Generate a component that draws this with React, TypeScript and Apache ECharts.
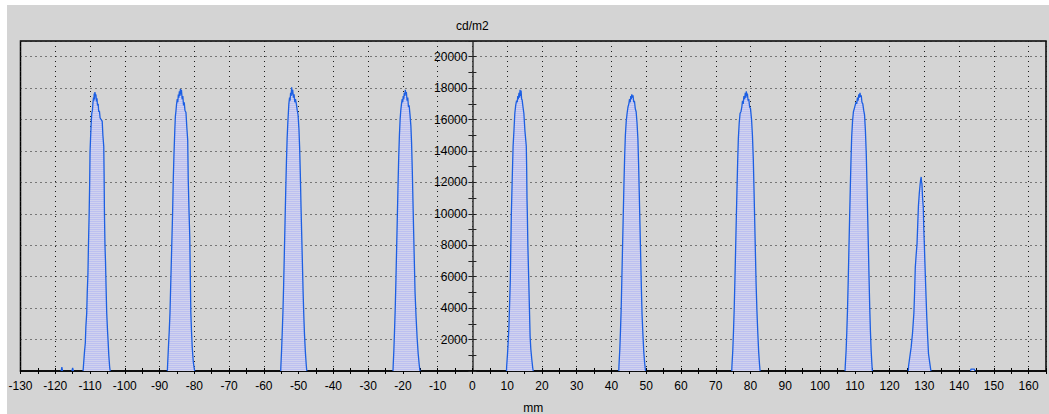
import React, { useEffect, useRef } from "react";
import * as echarts from "echarts";

// x axis (mm) and y axis (cd/m2) settings
const xMin = -130;
const xMax = 165;
const yMin = 0;
const yMax = 21000;

// Luminance profiles: [mm, cd/m2]
const peak1: number[][] = [
  [-112.0, 0], [-111.9, 300], [-111.6, 1200], [-111.35, 1800], [-111.2, 2800], [-110.95, 3700],
  [-110.8, 5000], [-110.6, 6200], [-110.45, 8000], [-110.25, 10000], [-110.1, 12000], [-110.0, 13900],
  [-109.85, 14800], [-109.7, 15600], [-109.5, 16400], [-109.3, 16600], [-109.15, 17100], [-109.0, 17400],
  [-108.9, 17200], [-108.8, 17650], [-108.7, 17300], [-108.6, 17750], [-108.45, 17550], [-108.3, 17600],
  [-108.15, 17150], [-108.0, 17350], [-107.85, 16900], [-107.65, 17000], [-107.5, 16500], [-107.3, 16550],
  [-107.1, 16100], [-106.8, 16000], [-106.5, 15900], [-106.3, 15000], [-106.05, 14300], [-105.95, 12500],
  [-105.85, 10000], [-105.7, 8000], [-105.55, 7000], [-105.4, 5500], [-105.2, 3700], [-104.95, 2500],
  [-104.8, 1900], [-104.6, 1000], [-104.35, 250], [-104.2, 0],
];
const peak2: number[][] = [
  [-87.75, 0], [-87.7, 300], [-87.45, 1500], [-87.2, 2600], [-87.0, 3700], [-86.75, 5800], [-86.5, 7900],
  [-86.25, 10000], [-86.05, 12200], [-85.85, 13800], [-85.6, 15400], [-85.45, 16200], [-85.3, 16500],
  [-85.1, 17000], [-84.9, 17300], [-84.75, 17100], [-84.6, 17600], [-84.45, 17400], [-84.3, 17800],
  [-84.15, 17500], [-84.0, 17950], [-83.85, 17600], [-83.7, 17900], [-83.5, 17300], [-83.3, 17500],
  [-83.1, 16900], [-82.9, 17100], [-82.7, 16600], [-82.4, 16450], [-82.15, 15500], [-81.9, 14700],
  [-81.75, 12200], [-81.5, 10000], [-81.3, 8500], [-81.15, 6000], [-81.0, 3700], [-80.8, 2500],
  [-80.6, 1500], [-80.3, 600], [-80.05, 200], [-79.9, 0],
];
const peak3: number[][] = [
  [-55.15, 0], [-55.1, 300], [-54.9, 1300], [-54.7, 2500], [-54.5, 3800], [-54.3, 5500], [-54.1, 7500],
  [-53.9, 9500], [-53.7, 11500], [-53.5, 13300], [-53.3, 14800], [-53.1, 15800], [-52.95, 16400],
  [-52.8, 17000], [-52.6, 17400], [-52.45, 17200], [-52.3, 17700], [-52.15, 17500], [-52.0, 18050],
  [-51.85, 17600], [-51.7, 17900], [-51.5, 17400], [-51.3, 17600], [-51.1, 17100], [-50.9, 17300],
  [-50.65, 17000], [-50.4, 16600], [-50.15, 16300], [-49.9, 15400], [-49.7, 14200], [-49.5, 12500],
  [-49.3, 10400], [-49.1, 8600], [-48.9, 6800], [-48.7, 5000], [-48.5, 3500], [-48.3, 2300],
  [-48.05, 1200], [-47.8, 400], [-47.65, 0],
];
const peak4: number[][] = [
  [-22.85, 0], [-22.8, 300], [-22.6, 1300], [-22.4, 2600], [-22.2, 4000], [-22.0, 5800], [-21.8, 7800],
  [-21.6, 9800], [-21.4, 11800], [-21.2, 13600], [-21.0, 15000], [-20.8, 16000], [-20.6, 16600],
  [-20.4, 17000], [-20.2, 17300], [-20.05, 17100], [-19.9, 17500], [-19.75, 17300], [-19.6, 17700],
  [-19.45, 17500], [-19.3, 17900], [-19.15, 17600], [-19.0, 17750], [-18.8, 17200], [-18.6, 17400],
  [-18.4, 16800], [-18.2, 16900], [-17.95, 16300], [-17.7, 15600], [-17.5, 14500], [-17.3, 12800],
  [-17.1, 10800], [-16.9, 8800], [-16.7, 6900], [-16.5, 5000], [-16.2, 3400], [-15.9, 2100],
  [-15.6, 1100], [-15.3, 400], [-15.1, 0],
];
const peak5: number[][] = [
  [9.8, 0], [9.85, 300], [10.1, 1100], [10.3, 1900], [10.5, 2800], [10.7, 4300], [10.9, 5800],
  [11.05, 8000], [11.2, 10000], [11.45, 12200], [11.7, 14300], [11.95, 15300], [12.2, 16400],
  [12.45, 16900], [12.7, 17200], [12.9, 17100], [13.05, 17500], [13.2, 17300], [13.4, 17700],
  [13.55, 17400], [13.7, 17900], [13.85, 17500], [14.0, 17850], [14.15, 17300], [14.3, 17250],
  [14.55, 16800], [14.8, 16400], [15.1, 15300], [15.5, 14300], [15.6, 13000], [15.7, 11000],
  [15.8, 10000], [15.95, 8000], [16.2, 5800], [16.4, 4000], [16.6, 2200], [16.8, 1400],
  [17.1, 700], [17.35, 200], [17.5, 0],
];
const peak6: number[][] = [
  [42.1, 0], [42.15, 300], [42.4, 1400], [42.6, 2600], [42.8, 4000], [43.0, 6000], [43.2, 8000],
  [43.4, 10000], [43.6, 12000], [43.8, 13700], [44.0, 15000], [44.25, 15900], [44.5, 16400],
  [44.75, 16800], [45.0, 17000], [45.2, 17300], [45.4, 17100], [45.55, 17500], [45.7, 17300],
  [45.85, 17600], [46.0, 17400], [46.2, 17550], [46.4, 17100], [46.6, 17200], [46.85, 16700],
  [47.1, 16500], [47.35, 15800], [47.6, 14800], [47.8, 13200], [48.0, 11300], [48.2, 9300],
  [48.4, 7300], [48.6, 5300], [48.8, 3600], [49.05, 2300], [49.3, 1200], [49.55, 500], [49.8, 0],
];
const peak7: number[][] = [
  [74.6, 0], [74.65, 300], [74.9, 1300], [75.1, 2500], [75.3, 3900], [75.5, 5700], [75.7, 7600],
  [75.9, 9600], [76.1, 11500], [76.3, 13300], [76.5, 14800], [76.75, 15800], [77.0, 16400],
  [77.25, 16500], [77.5, 16800], [77.7, 17200], [77.9, 17000], [78.1, 17500], [78.3, 17300],
  [78.5, 17700], [78.65, 17400], [78.8, 17800], [78.95, 17500], [79.1, 17650], [79.3, 17200],
  [79.5, 17300], [79.75, 16800], [80.0, 16700], [80.3, 16000], [80.55, 15000], [80.8, 13500],
  [81.0, 11600], [81.2, 9600], [81.4, 7600], [81.6, 5600], [81.85, 3800], [82.1, 2400],
  [82.35, 1200], [82.6, 400], [82.75, 0],
];
const peak8: number[][] = [
  [107.2, 0], [107.25, 300], [107.5, 1300], [107.7, 2500], [107.9, 3900], [108.1, 5700], [108.3, 7700],
  [108.5, 9700], [108.7, 11600], [108.9, 13400], [109.1, 14900], [109.35, 15900], [109.6, 16500],
  [109.85, 16700], [110.1, 16900], [110.35, 17100], [110.55, 17000], [110.75, 17400], [110.95, 17200],
  [111.15, 17600], [111.3, 17400], [111.5, 17700], [111.65, 17450], [111.85, 17550], [112.05, 17100],
  [112.3, 17000], [112.55, 16600], [112.8, 16300], [113.05, 15300], [113.3, 13800], [113.5, 11900],
  [113.7, 9900], [113.9, 7900], [114.1, 5900], [114.3, 4000], [114.5, 2500], [114.7, 1300],
  [114.9, 500], [115.05, 0],
];
const peak9: number[][] = [
  [125.4, 0], [125.45, 300], [125.7, 700], [126.2, 1500], [126.6, 2400], [127.0, 3700], [127.2, 5000],
  [127.4, 6600], [127.65, 7400], [127.9, 8100], [128.1, 9300], [128.3, 10500], [128.55, 11300],
  [128.8, 11900], [128.95, 12200], [129.1, 12350], [129.2, 12000], [129.3, 11950], [129.5, 11000],
  [129.7, 10400], [129.85, 9000], [130.0, 8100], [130.15, 7000], [130.3, 6000], [130.5, 4700],
  [130.7, 3450], [130.95, 2200], [131.2, 1100], [131.6, 450], [131.9, 0],
];
const blips: number[][][] = [
  [[-118.3, 0], [-118.1, 250], [-117.9, 0]],
  [[-115.2, 0], [-115.0, 200], [-114.8, 0]],
  [[143.3, 0], [143.4, 120], [144.4, 120], [144.5, 0]],
];

const peaks = [peak1, peak2, peak3, peak4, peak5, peak6, peak7, peak8, peak9, ...blips];

const FONT = "'Liberation Sans', Arial, sans-serif";
const LINE = "#1d5fe2";
const FILL_A = "#bcc0f0";
const FILL_B = "#d0d2ee";
const DOT = "#1a1a1a";

// layout of the plot box inside the chart div
const CHART_W = 1042;
const CHART_H = 409;
const G_LEFT = 13.5;
const G_RIGHT = 3;
const G_TOP = 36;
const G_BOTTOM = 43;

function stripePattern(): any {
  try {
    const c = document.createElement("canvas");
    c.width = 4;
    c.height = 2;
    const ctx = c.getContext("2d");
    if (!ctx) return "#c4c7ef";
    ctx.fillStyle = FILL_A;
    ctx.fillRect(0, 0, 4, 1);
    ctx.fillStyle = FILL_B;
    ctx.fillRect(0, 1, 4, 1);
    return { image: c.toDataURL(), repeat: "repeat" };
  } catch (e) {
    return "#c4c7ef";
  }
}

export default function App() {
  const ref = useRef<HTMLDivElement>(null);
  useEffect(() => {
    if (!ref.current) return;
    const chart = echarts.init(ref.current, undefined, { renderer: "svg" });
    const plotW = CHART_W - G_LEFT - G_RIGHT;
    const zeroX = ((0 - xMin) / (xMax - xMin)) * plotW;
    const leftOffset = -zeroX;
    const rightOffset = -(plotW - zeroX);
    const fill = stripePattern();
    const tickAxisX = (inside: boolean) => ({
      type: "value",
      position: "bottom",
      min: xMin,
      max: xMax,
      interval: 5,
      axisLine: { show: false, onZero: false },
      axisTick: { show: true, inside, length: 3, lineStyle: { color: "#000", width: 1 } },
      axisLabel: { show: false },
      splitLine: { show: false },
    });
    const tickAxisY = (position: string, offset: number) => ({
      type: "value",
      position,
      offset,
      min: yMin,
      max: yMax,
      interval: 1000,
      axisLine: { show: false, onZero: false },
      axisTick: { show: true, inside: false, length: 4, lineStyle: { color: "#222", width: 1 } },
      axisLabel: { show: false },
      splitLine: { show: false },
    });
    chart.setOption({
      animation: false,
      backgroundColor: "#d4d4d4",
      textStyle: { fontFamily: FONT, fontSize: 12, color: "#000" },
      grid: {
        left: G_LEFT,
        right: G_RIGHT,
        top: G_TOP,
        bottom: G_BOTTOM,
        containLabel: false,
        outerBoundsMode: "none",
        show: true,
        borderColor: "#000",
        borderWidth: 1.5,
        backgroundColor: "transparent",
      },
      xAxis: [
        {
          type: "value",
          position: "bottom",
          min: xMin,
          max: xMax,
          interval: 10,
          name: "mm",
          nameLocation: "middle",
          nameGap: 31,
          nameTextStyle: { fontFamily: FONT, fontSize: 12, color: "#000" },
          axisLine: { show: true, onZero: false, lineStyle: { color: "#000", width: 1.5 } },
          axisTick: { show: false },
          axisLabel: { color: "#000", fontFamily: FONT, fontSize: 12, margin: 9, showMaxLabel: false },
          splitLine: { show: true, lineStyle: { color: DOT, type: [1, 4], width: 1 } },
        },
        tickAxisX(false),
        tickAxisX(true),
      ],
      yAxis: [
        {
          type: "value",
          position: "left",
          offset: leftOffset,
          min: yMin,
          max: yMax,
          interval: 2000,
          name: "cd/m2",
          nameLocation: "end",
          nameGap: 9,
          nameTextStyle: { fontFamily: FONT, fontSize: 12, color: "#000" },
          axisLine: { show: true, onZero: false, lineStyle: { color: "#333", width: 1.5 } },
          axisTick: { show: false },
          axisLabel: {
            color: "#000",
            fontFamily: FONT,
            fontSize: 12,
            margin: 5,
            formatter: (v: number) => (v === 0 || v === yMax ? "" : String(v)),
          },
          splitLine: { show: true, lineStyle: { color: DOT, type: [1, 4], width: 1 } },
        },
        tickAxisY("left", leftOffset),
        tickAxisY("right", rightOffset),
      ],
      series: peaks.map((p, i) => ({
        name: "peak" + (i + 1),
        type: "line",
        xAxisIndex: 0,
        yAxisIndex: 0,
        data: p,
        symbol: "none",
        showSymbol: false,
        silent: true,
        lineStyle: { color: LINE, width: 1.3 },
        areaStyle: { color: fill, opacity: 1 },
      })),
    });
    return () => chart.dispose();
  }, []);
  return (
    <div style={{ position: "absolute", left: 0, top: 0, width: 1049, height: 414, background: "#fff" }}>
      <div ref={ref} style={{ position: "absolute", left: 7, top: 5, width: CHART_W, height: CHART_H }} />
    </div>
  );
}
